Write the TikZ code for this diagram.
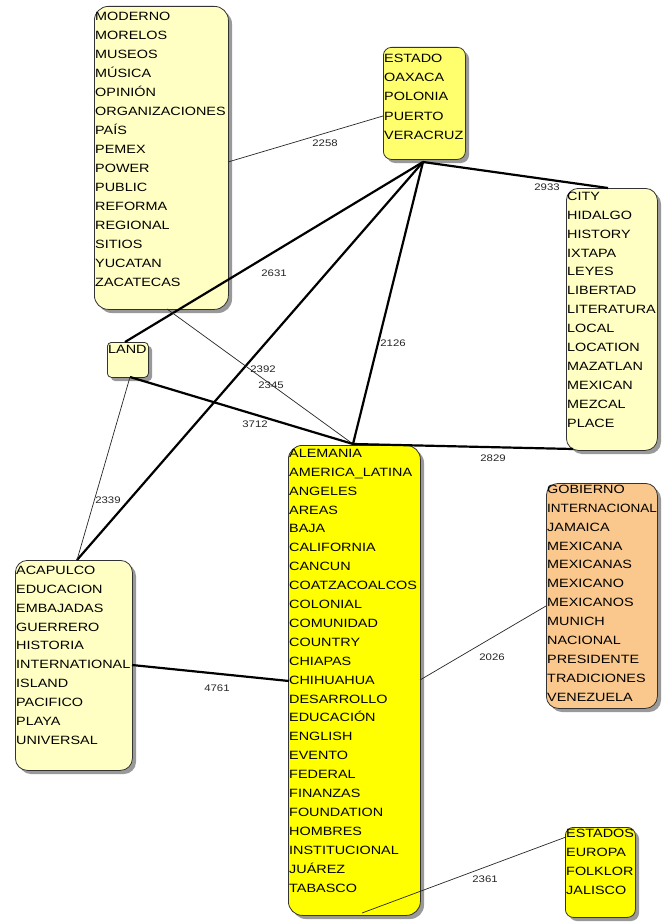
\documentclass[tikz,border=0pt]{standalone}
\usepackage{fontspec}
\setmainfont{Liberation Sans}
\newfontfamily\boxfont[FakeStretch=1.2]{Liberation Sans}
\definecolor{paleyel}{RGB}{255,255,196}
\definecolor{midyel}{RGB}{255,255,110}
\definecolor{fullyel}{RGB}{255,255,0}
\definecolor{orangebox}{RGB}{250,200,140}
\newcommand{\dbox}[7]{%
  \fill[black!40, rounded corners=#7] (#2+4,#3+4) rectangle (#4+4,#5+4);
  \node[draw=black!80, line width=0.8pt, fill=#6, rounded corners=#7, inner sep=0pt,
        anchor=north west, minimum width={(#4-#2)*1pt}, minimum height={(#5-#3)*1pt}] (#1) at (#2,#3) {};
}
\begin{document}
\begin{tikzpicture}[x=1pt,y=-1pt,
  item/.style={anchor=base west, inner sep=0pt, font=\boxfont\fontsize{12}{14}\selectfont, text=black},
  lbl/.style={font=\boxfont\fontsize{9.5}{11}\selectfont, text=black!85, inner sep=0pt},
  thinedge/.style={draw=black!85, line width=0.7pt},
  thickedge/.style={draw=black, line width=2.2pt}]
\useasboundingbox[fill=white] (0,0) rectangle (662,923);

% boxes
\dbox{tl}{94}{6}{228}{309}{paleyel}{14pt}
\dbox{tm}{383}{47}{465}{159}{midyel}{8pt}
\dbox{rt}{566}{188}{657}{450}{paleyel}{12pt}
\dbox{land}{107}{342}{148}{377}{paleyel}{4pt}
\dbox{ct}{288}{445}{420}{915}{fullyel}{14pt}
\dbox{lf}{15}{560}{132}{770}{paleyel}{12pt}
\dbox{or}{546}{483}{657}{708}{orangebox}{12pt}
\dbox{br}{565}{827}{635}{917}{fullyel}{8pt}

% box texts
\foreach \w [count=\i from 0] in {MODERNO,MORELOS,MUSEOS,MÚSICA,OPINIÓN,ORGANIZACIONES,PAÍS,PEMEX,POWER,PUBLIC,REFORMA,REGIONAL,SITIOS,YUCATAN,ZACATECAS}
  \node[item] (tl-\i) at (95,20.3+\i*19) {\w};
\foreach \w [count=\i from 0] in {ESTADO,OAXACA,POLONIA,PUERTO,VERACRUZ}
  \node[item] (tm-\i) at (384,62.3+\i*19.25) {\w};
\foreach \w [count=\i from 0] in {CITY,HIDALGO,HISTORY,IXTAPA,LEYES,LIBERTAD,LITERATURA,LOCAL,LOCATION,MAZATLAN,MEXICAN,MEZCAL,PLACE}
  \node[item] (rt-\i) at (567,200.3+\i*18.9) {\w};
\node[item] (land-0) at (108,353.3) {LAND};
\foreach \w [count=\i from 0] in {ALEMANIA,AMERICA\_LATINA,ANGELES,AREAS,BAJA,CALIFORNIA,CANCUN,COATZACOALCOS,COLONIAL,COMUNIDAD,COUNTRY,CHIAPAS,CHIHUAHUA,DESARROLLO,EDUCACIÓN,ENGLISH,EVENTO,FEDERAL,FINANZAS,FOUNDATION,HOMBRES,INSTITUCIONAL,JUÁREZ,TABASCO}
  \node[item] (ct-\i) at (289,457.3+\i*18.9) {\w};
\foreach \w [count=\i from 0] in {ACAPULCO,EDUCACION,EMBAJADAS,GUERRERO,HISTORIA,INTERNATIONAL,ISLAND,PACIFICO,PLAYA,UNIVERSAL}
  \node[item] (lf-\i) at (16,574.3+\i*18.9) {\w};
\foreach \w [count=\i from 0] in {GOBIERNO,\scalebox{0.94}[1]{INTERNACIONAL},JAMAICA,MEXICANA,MEXICANAS,MEXICANO,MEXICANOS,MUNICH,NACIONAL,PRESIDENTE,TRADICIONES,VENEZUELA}
  \node[item] (or-\i) at (547,493.3+\i*18.9) {\w};
\foreach \w [count=\i from 0] in {ESTADOS,EUROPA,FOLKLOR,JALISCO}
  \node[item] (br-\i) at (566,837.3+\i*19) {\w};

% connector ends
\coordinate (tl-e) at (228,162);
\coordinate (tl-s) at (167,309);
\coordinate (tm-w) at (383,116);
\coordinate (tm-s) at (423,162);
\coordinate (rt-n) at (608,188);
\coordinate (rt-sw) at (573,449);
\coordinate (land-n) at (125,342);
\coordinate (land-s) at (130,377);
\coordinate (ct-n) at (353,444);
\coordinate (ct-w) at (289,681);
\coordinate (ct-e) at (420,680);
\coordinate (ct-s) at (362,913);
\coordinate (lf-n) at (77,560);
\coordinate (lf-e) at (132,665);
\coordinate (or-w) at (546,606);
\coordinate (br-w) at (566,837);

% connectors
\draw[thinedge] (tl-e) -- (tm-w);
\draw[thickedge] (tm-s) -- (rt-n);
\draw[thickedge] (tm-s) -- (land-n);
\draw[thickedge] (tm-s) -- (lf-n);
\draw[thinedge] (tl-s) -- (ct-n);
\draw[thickedge] (tm-s) -- (ct-n);
\draw[thickedge] (land-s) -- (ct-n);
\draw[thinedge] (land-s) -- (lf-n);
\draw[thickedge] (ct-n) -- (rt-sw);
\draw[thickedge] (lf-e) -- (ct-w);
\draw[thinedge] (ct-e) -- (or-w);
\draw[thinedge] (ct-s) -- (br-w);

% connector labels
\node[lbl] (w2258) at (325,143) {2258};
\node[lbl] (w2933) at (547,187) {2933};
\node[lbl] (w2631) at (274,273) {2631};
\node[lbl] (w2392) at (263,369) {2392};
\node[lbl] (w2345) at (271,385) {2345};
\node[lbl] (w2126) at (393,343) {2126};
\node[lbl] (w3712) at (255,424) {3712};
\node[lbl] (w2339) at (108,500) {2339};
\node[lbl] (w2829) at (493,458) {2829};
\node[lbl] (w4761) at (217,688) {4761};
\node[lbl] (w2026) at (492,657) {2026};
\node[lbl] (w2361) at (485,879) {2361};
\end{tikzpicture}
\end{document}
